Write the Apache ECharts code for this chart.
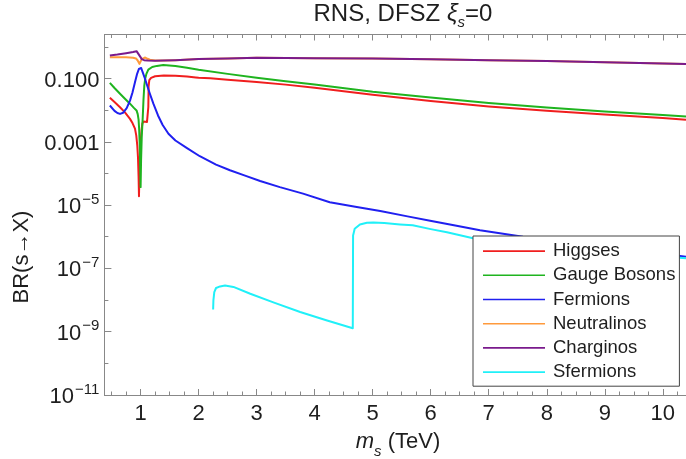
<!DOCTYPE html>
<html><head><meta charset="utf-8">
<script src="https://cdn.jsdelivr.net/npm/echarts@6/dist/echarts.min.js"></script>
<style>html,body{margin:0;padding:0;background:#fff}#c{width:686px;height:459px}</style>
</head><body><div id="c"></div>
<script>
// ---- data (m_s in TeV, branching ratios) ----
const seriesNames = ['Higgses','Gauge Bosons','Fermions','Neutralinos','Charginos','Sfermions'];

const xHiggses = [0.47,0.55,0.645,0.73,0.817,0.86,0.903,0.925,0.943,0.955,0.965,0.972,0.98,0.99,1.0,1.015,1.03,1.05,1.08,1.11,1.128,1.133,1.138,1.15,1.18,1.25,1.4,1.6,1.8,1.95,1.975,2.0,2.03,2.2,2.5,3.0,3.5,4.0,5.0,6.0,7.0,8.0,9.0,10.0,10.4];
const yHiggses = [0.0245,0.018,0.0124,0.0085,0.0053,0.0039,0.0026,0.0016,7.6e-4,3.2e-4,7.9e-5,1.9e-5,1.0e-4,4.0e-4,9.0e-4,2.2e-3,3.8e-3,4.4e-3,4.3e-3,4.2e-3,4.0e-3,0.0126,0.056,0.089,0.105,0.118,0.125,0.123,0.116,0.108,0.097,0.105,0.11,0.102,0.092,0.078,0.064,0.051,0.0305,0.0195,0.0131,0.0096,0.0073,0.0056,0.005];

const xGauge = [0.47,0.55,0.645,0.73,0.817,0.88,0.93,0.95,0.965,0.975,0.985,0.993,1.0,1.008,1.02,1.036,1.05,1.064,1.08,1.1,1.133,1.2,1.28,1.39,1.6,1.8,2.0,2.5,3.0,3.5,4.0,5.0,6.0,7.0,8.0,9.0,10.0,10.4];
const yGauge = [0.073,0.05,0.033,0.023,0.016,0.012,0.0098,0.0075,0.005,0.0025,8e-4,1.5e-4,3.7e-5,2.5e-4,1.5e-3,0.0055,0.022,0.06,0.1,0.14,0.19,0.23,0.25,0.265,0.25,0.22,0.19,0.14,0.105,0.082,0.065,0.038,0.025,0.0169,0.0122,0.0091,0.007,0.0063];

const xFermions = [0.47,0.55,0.6,0.645,0.7,0.76,0.817,0.86,0.903,0.94,0.97,0.99,1.01,1.04,1.076,1.12,1.16,1.22,1.3,1.38,1.48,1.6,1.8,2.02,2.3,2.54,2.8,3.06,3.4,3.8,4.26,4.7,5.13,5.6,5.99,6.4,6.85,7.59,8.5,9.5,10.4];
const yFermions = [0.014,0.0095,0.0081,0.0076,0.0083,0.0115,0.02,0.036,0.076,0.14,0.2,0.23,0.215,0.15,0.098,0.055,0.033,0.016,0.0068,0.0034,0.0018,0.0011,6.3e-4,3.5e-4,1.9e-4,1.26e-4,8.5e-5,5.75e-5,3.7e-5,2.3e-5,1.23e-5,8.9e-6,6.5e-6,4.4e-6,3.2e-6,2.3e-6,1.6e-6,1.0e-6,6.3e-7,3.8e-7,2.35e-7];

const xNeutralinos = [0.47,0.6,0.75,0.87,0.92,0.95,0.98,1.0,1.02,1.05,1.08,1.12,1.16,1.25,1.4,1.6,2.0,2.5,3.0,4.0,5.0,6.0,7.0,8.0,9.0,10.0,10.4];
const yNeutralinos = [0.47,0.47,0.465,0.455,0.43,0.37,0.29,0.32,0.41,0.47,0.46,0.42,0.39,0.37,0.37,0.38,0.41,0.43,0.45,0.44,0.43,0.405,0.38,0.355,0.325,0.295,0.285];

const xCharginos = [0.47,0.6,0.75,0.87,0.93,0.96,0.99,1.02,1.06,1.12,1.25,1.4,1.6,2.0,2.5,3.0,4.0,5.0,6.0,7.0,8.0,9.0,10.0,10.4];
const yCharginos = [0.53,0.57,0.63,0.69,0.73,0.66,0.5,0.41,0.38,0.37,0.365,0.37,0.38,0.41,0.43,0.45,0.44,0.43,0.405,0.38,0.355,0.325,0.295,0.285];

const xSfermions = [2.25,2.255,2.27,2.3,2.37,2.455,2.6,2.89,3.3,3.75,4.2,4.657,4.662,4.69,4.78,4.9,5.01,5.2,5.47,5.69,6.0,6.28,6.73,7.5,8.5,9.5,10.4];
const ySfermions = [5.0e-9,1.0e-8,1.78e-8,2.4e-8,2.7e-8,2.9e-8,2.6e-8,1.58e-8,8.3e-9,4.2e-9,2.3e-9,1.29e-9,1.1e-6,1.78e-6,2.45e-6,2.75e-6,2.82e-6,2.7e-6,2.45e-6,2.3e-6,1.74e-6,1.38e-6,8.9e-7,6.0e-7,4.0e-7,2.8e-7,2.1e-7];

const seriesColors = ['#f01e1e','#1fb41f','#2020f0','#ff9a3c','#7a1a8c','#20f0f8'];

// ticks
const xTickLabels = [1,2,3,4,5,6,7,8,9,10];
const xMinorTicks = [0.5,0.75,1.25,1.5,1.75,2.25,2.5,2.75,3.25,3.5,3.75,4.25,4.5,4.75,5.25,5.5,5.75,6.25,6.5,6.75,7.25,7.5,7.75,8.25,8.5,8.75,9.25,9.5,9.75,10.25];
const yLabelExponents = [-11,-9,-7,-5,-3,-1];
const yMinorExponents = [-10,-8,-6,-4,-2,0];

const X_MIN = 0.376, X_MAX = 10.4;
const Y_MIN = 1e-11, Y_MAX = Math.pow(10, 0.39);

const FONT = '"Liberation Sans", Arial, sans-serif';
const AXIS_COLOR = '#888';
const TEXT_COLOR = '#1e1e1e';

const yMajorVals = yLabelExponents.map(e => Math.pow(10, e));
const yMinorVals = yMinorExponents.map(e => Math.pow(10, e));

function pairs(xs, ys) { return xs.map((x, i) => [x, ys[i]]); }
const allX = [xHiggses, xGauge, xFermions, xNeutralinos, xCharginos, xSfermions];
const allY = [yHiggses, yGauge, yFermions, yNeutralinos, yCharginos, ySfermions];

function xAxisDef(pos, vals, len, labels) {
  return {
    type: 'value', min: X_MIN, max: X_MAX, position: pos, gridIndex: 0,
    axisLine: { show: true, onZero: false, lineStyle: { color: AXIS_COLOR, width: 1 } },
    axisTick: { show: true, inside: true, length: len, customValues: vals, lineStyle: { color: AXIS_COLOR } },
    axisLabel: labels ? { show: true, customValues: vals, margin: 8, fontSize: 22, fontFamily: FONT, color: TEXT_COLOR,
      formatter: v => String(Math.round(v)) } : { show: false },
    splitLine: { show: false }
  };
}
function yAxisDef(vals, len, labels) {
  return {
    type: 'log', logBase: 10, min: Y_MIN, max: Y_MAX, position: 'left', gridIndex: 0,
    axisLine: { show: labels, onZero: false, lineStyle: { color: AXIS_COLOR, width: 1 } },
    axisTick: { show: true, inside: true, length: len, customValues: vals, lineStyle: { color: AXIS_COLOR } },
    axisLabel: labels ? {
      show: true, customValues: vals, margin: 5, color: TEXT_COLOR,
      formatter: v => {
        const e = Math.round(Math.log10(v));
        if (e === -1) return '{b|0.100}';
        if (e === -3) return '{b|0.001}';
        return '{b|10}{s|\u2212' + (-e) + '}';
      },
      rich: {
        b: { fontSize: 22, fontFamily: FONT, color: TEXT_COLOR, lineHeight: 26, verticalAlign: 'bottom' },
        s: { fontSize: 15, fontFamily: FONT, color: TEXT_COLOR, lineHeight: 15, padding: [0, 0, 11, 1], verticalAlign: 'bottom' }
      }
    } : { show: false },
    splitLine: { show: false }
  };
}

const chart = echarts.init(document.getElementById('c'));
chart.setOption({
  animation: false,
  backgroundColor: '#fff',
  grid: { left: 104.4, right: 0, top: 34.5, bottom: 64, containLabel: false },
  xAxis: [
    xAxisDef('bottom', xTickLabels, 6, true),
    xAxisDef('bottom', xMinorTicks, 3.5, false),
    xAxisDef('top', xTickLabels, 6, false),
    xAxisDef('top', xMinorTicks, 3.5, false)
  ],
  yAxis: [
    yAxisDef(yMajorVals, 7, true),
    yAxisDef(yMinorVals, 4, false)
  ],
  legend: {
    orient: 'vertical', left: 473, top: 236, z: 20,
    backgroundColor: '#fff', borderColor: '#444', borderWidth: 1,
    padding: [3, 4, 2, 10], itemWidth: 62, itemHeight: 1.6, itemGap: 0,
    icon: 'rect',
    textStyle: { fontSize: 18.5, fontFamily: FONT, color: TEXT_COLOR, lineHeight: 24.2, padding: [0, 0, 0, 3] },
    data: seriesNames
  },
  series: seriesNames.map((name, i) => ({
    name, type: 'line', xAxisIndex: 0, yAxisIndex: 0,
    data: pairs(allX[i], allY[i]),
    showSymbol: false, symbol: 'none', smooth: false,
    lineStyle: { width: 2, color: seriesColors[i], join: 'round' },
    itemStyle: { color: seriesColors[i] },
    z: 2, z2: i
  })),
  graphic: [
    {
      type: 'text', x: 403, y: 14,
      style: {
        text: '{a|RNS, DFSZ }{g|\u03BE}{sub|s}{a|=0}',
        align: 'center', verticalAlign: 'middle',
        rich: {
          a: { fontSize: 24, fontFamily: FONT, fill: TEXT_COLOR, lineHeight: 24, verticalAlign: 'top' },
          g: { fontSize: 24, fontFamily: FONT, fontStyle: 'italic', fill: TEXT_COLOR, lineHeight: 24, verticalAlign: 'top' },
          sub: { fontSize: 15, fontFamily: FONT, fontStyle: 'italic', fill: TEXT_COLOR, lineHeight: 15, padding: [13, 0, 0, 0], verticalAlign: 'top' }
        }
      }
    },
    {
      type: 'text', x: 398, y: 443,
      style: {
        text: '{i|m}{sub|s}{a| (TeV)}',
        align: 'center', verticalAlign: 'middle',
        rich: {
          i: { fontSize: 22, fontFamily: FONT, fontStyle: 'italic', fill: TEXT_COLOR, lineHeight: 24, verticalAlign: 'top' },
          a: { fontSize: 22, fontFamily: FONT, fill: TEXT_COLOR, lineHeight: 24, verticalAlign: 'top' },
          sub: { fontSize: 15, fontFamily: FONT, fontStyle: 'italic', fill: TEXT_COLOR, lineHeight: 15, padding: [13, 0, 0, 0], verticalAlign: 'top' }
        }
      }
    },
    {
      type: 'text', x: 22, y: 257, rotation: Math.PI / 2,
      style: {
        text: 'BR(s\u2192X)', align: 'center', verticalAlign: 'middle',
        fontSize: 22, fontFamily: FONT, fill: TEXT_COLOR
      }
    }
  ]
});
</script></body></html>
